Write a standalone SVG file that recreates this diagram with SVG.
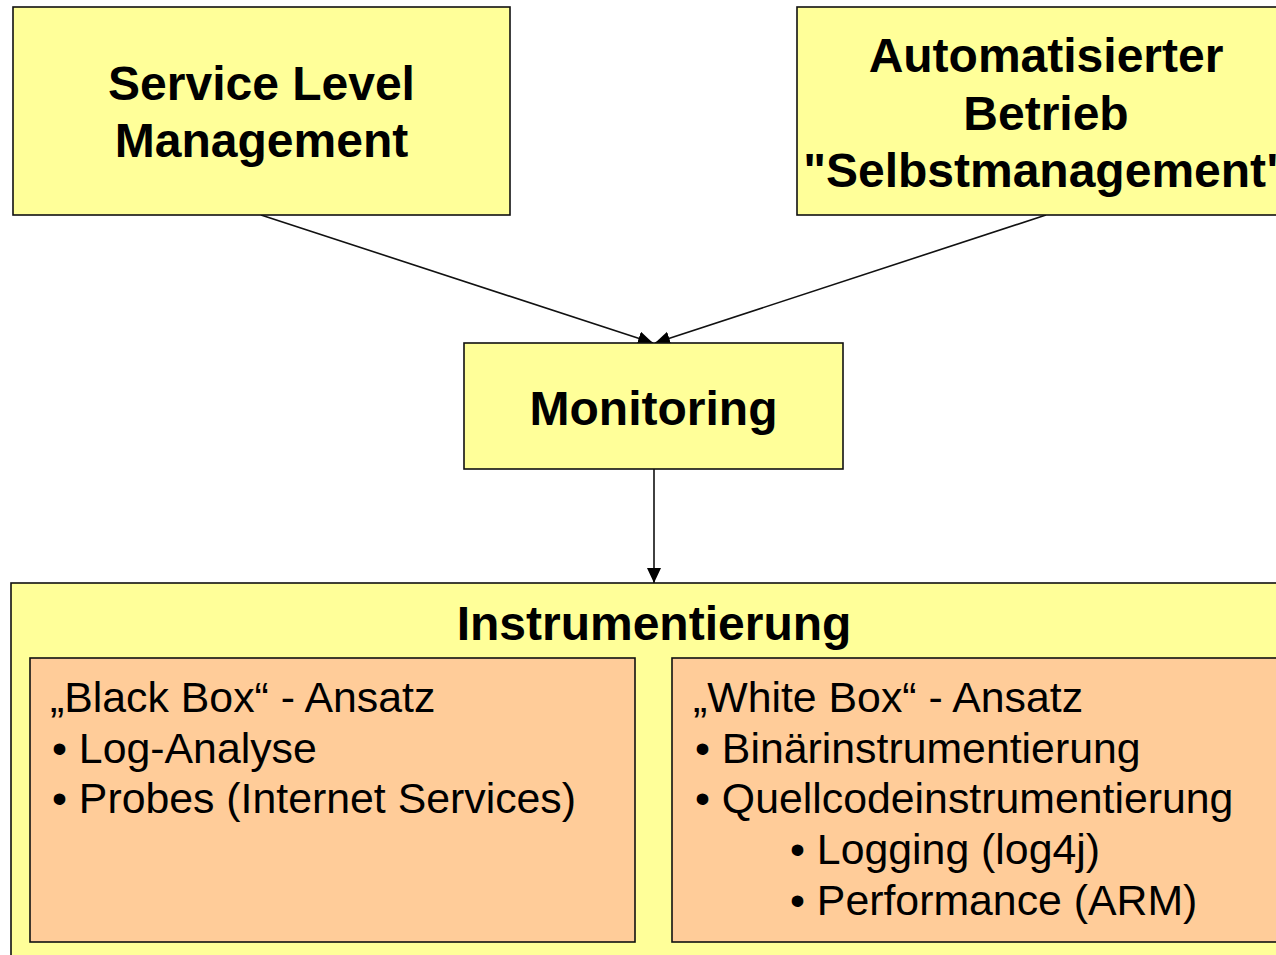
<svg xmlns="http://www.w3.org/2000/svg" width="1276" height="955" viewBox="0 0 1276 955">
  <style>
    .box { fill: #FFFF99; stroke: #111; stroke-width: 1.6; }
    .sub { fill: #FFCC99; stroke: #111; stroke-width: 1.6; }
    .title { font-family: "Liberation Sans", Arial, sans-serif; font-weight: bold; font-size: 48px; fill: #000; text-anchor: middle; }
    .item { font-family: "Liberation Sans", Arial, sans-serif; font-size: 42.8px; fill: #000; }
    .conn { stroke: #111; stroke-width: 1.6; fill: none; marker-end: url(#arrow); }
  </style>
  <defs>
    <marker id="arrow" markerUnits="userSpaceOnUse" markerWidth="16" markerHeight="16" refX="15" refY="7" orient="auto">
      <path d="M0,0 L15,7 L0,14 Z" fill="#000"/>
    </marker>
  </defs>
  <rect width="1276" height="955" fill="#FFFFFF"/>

  <!-- connectors -->
  <g id="connectors">
    <line class="conn" x1="261" y1="215" x2="653" y2="343"/>
    <line class="conn" x1="1046" y1="215" x2="655" y2="343"/>
    <line class="conn" x1="654" y1="469" x2="654" y2="583"/>
  </g>

  <g id="slm">
    <rect class="box" x="13" y="7" width="497" height="208"/>
    <text class="title" x="261.5" y="100">Service Level</text>
    <text class="title" x="261.5" y="157">Management</text>
  </g>

  <!-- wide box runs past the right edge of the page -->
  <g id="auto">
    <rect class="box" x="797" y="7" width="498" height="208"/>
    <text class="title" x="1046" y="72">Automatisierter</text>
    <text class="title" x="1046" y="130">Betrieb</text>
    <text class="title" x="1046" y="187">"Selbstmanagement"</text>
  </g>

  <g id="monitoring">
    <rect class="box" x="464" y="343" width="379" height="126"/>
    <text class="title" x="653.5" y="425">Monitoring</text>
  </g>

  <g id="instrumentierung">
    <rect class="box" x="11" y="583" width="1286" height="380"/>
    <text class="title" x="654" y="640">Instrumentierung</text>
  </g>

  <g id="blackbox">
    <rect class="sub" x="30" y="658" width="605" height="284"/>
    <text class="item" x="50" y="712">„Black Box“ - Ansatz</text>
    <text class="item" x="52" y="762.5">• Log-Analyse</text>
    <text class="item" x="52" y="813">• Probes (Internet Services)</text>
  </g>

  <g id="whitebox">
    <rect class="sub" x="672" y="658" width="606" height="284"/>
    <text class="item" x="693" y="712">„White Box“ - Ansatz</text>
    <text class="item" x="695" y="762.5">• Binärinstrumentierung</text>
    <text class="item" x="695" y="813">• Quellcodeinstrumentierung</text>
    <text class="item" x="790" y="864">• Logging (log4j)</text>
    <text class="item" x="790" y="915">• Performance (ARM)</text>
  </g>
</svg>
